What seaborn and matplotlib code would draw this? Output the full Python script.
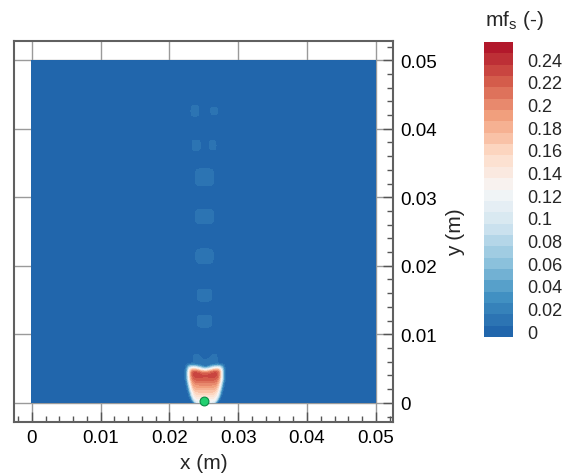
import numpy as np
import seaborn as sns
import matplotlib
matplotlib.use("Agg")
from matplotlib import pyplot as plt
from matplotlib.colors import ListedColormap
from matplotlib.ticker import FuncFormatter, MultipleLocator

# colour scale of mf_s
level_min = -0.005
level_max = 0.255
level_step = 0.01
cbar_ticks = [0, 0.02, 0.04, 0.06, 0.08, 0.1, 0.12, 0.14, 0.16, 0.18, 0.2, 0.22, 0.24]
palette = ['#2166ac', '#4393c3', '#92c5de', '#d1e5f0', '#f7f7f7',
           '#fddbc7', '#f4a582', '#d6604d', '#b2182b']

# faint puffs left behind in the wake (x centre, y centre, half width, half height, value)
puff_x = [0.0237, 0.0265, 0.0239, 0.0263, 0.0251, 0.0251, 0.0251, 0.0251, 0.0251]
puff_y = [0.0426, 0.0426, 0.0376, 0.0376, 0.0329, 0.0272, 0.0214, 0.0157, 0.0119]
puff_w = [0.0006, 0.0005, 0.0006, 0.0005, 0.0014, 0.0014, 0.0013, 0.0011, 0.0011]
puff_h = [0.0008, 0.0006, 0.0008, 0.0007, 0.0013, 0.0011, 0.0011, 0.0009, 0.0009]
puff_v = [0.011, 0.011, 0.011, 0.011, 0.012, 0.012, 0.012, 0.012, 0.012]

# main rising cup near the source
cup_x = 0.0252
cup_y = 0.0024
cup_top_w = 0.0025
cup_bot_w = 0.0013
cup_h = 0.0029
cup_v_bottom = 0.12
cup_v_top = 0.25

# ghost arc just above the cup
ghost_x = 0.0252
ghost_y = 0.0062
ghost_w = 0.0019
ghost_h = 0.0013
ghost_v = 0.011

source_x = 0.025
source_y = 0.0002

sns.set_style("white")
plt.rcParams['font.family'] = ['Liberation Sans', 'DejaVu Sans']


def superblob(X, Y, xc, yc, w, h, p=6):
    r = (np.abs(X - xc) / w) ** p + (np.abs(Y - yc) / h) ** p
    return np.exp(-r)


xs = np.linspace(0, 0.05, 801)
ys = np.linspace(0, 0.05, 801)
X, Y = np.meshgrid(xs, ys)
Z = np.zeros_like(X)

for px, py, pw, ph, pv in zip(puff_x, puff_y, puff_w, puff_h, puff_v):
    Z = np.maximum(Z, pv * superblob(X, Y, px, py, pw, ph, 4))

# ghost arc: a rounded box with its middle scooped out
g = ghost_v * superblob(X, Y, ghost_x, ghost_y, ghost_w, ghost_h, 4)
g *= 1 - np.exp(-((X - ghost_x) / 0.0012) ** 2 - ((Y - 0.0076) / 0.0017) ** 2)
Z = np.maximum(Z, g)

# cup: narrow at the bottom, wide at the top, concave top
frac = np.clip(Y / 0.0035, 0, 1)
width = cup_bot_w + (cup_top_w - cup_bot_w) * frac ** 0.4
r = (np.abs(X - cup_x) / width) ** 8 + (np.abs(Y - cup_y) / cup_h) ** 8
shape = np.exp(-r)
dip = 1 - np.exp(-((X - cup_x) / 0.0012) ** 2 - ((Y - 0.0058) / 0.0010) ** 2)
vals = cup_v_bottom + (cup_v_top - cup_v_bottom) * np.clip(Y / 0.0045, 0, 1)
Z = np.maximum(Z, vals * shape * dip)

levels = np.arange(level_min, level_max + level_step / 2, level_step)
cmap = ListedColormap(sns.blend_palette(palette, n_colors=len(levels) - 1))

fig = plt.figure(figsize=(5.66, 4.77), dpi=100)
ax = fig.add_axes([0.0247, 0.1132, 0.6696, 0.7987])
cs = ax.contourf(X, Y, np.clip(Z, 0, level_max - 0.001), levels=levels, cmap=cmap, zorder=1)

ax.scatter([source_x], [source_y], s=40, color='#22d070', edgecolor='#0b8a45',
           linewidth=0.8, zorder=3)

ax.set_xlim(-0.0026, 0.0525)
ax.set_ylim(-0.0028, 0.0528)
ax.xaxis.set_major_locator(MultipleLocator(0.01))
ax.yaxis.set_major_locator(MultipleLocator(0.01))
ax.xaxis.set_minor_locator(MultipleLocator(0.002))
ax.yaxis.set_minor_locator(MultipleLocator(0.002))
fmt = FuncFormatter(lambda v, pos: f"{round(v, 4):g}")
ax.xaxis.set_major_formatter(fmt)
ax.yaxis.set_major_formatter(fmt)
ax.yaxis.tick_right()
ax.yaxis.set_label_position('right')
ax.tick_params(which='both', direction='in', top=False, left=False, right=True,
               bottom=True, labelright=True, labelleft=False, colors='#555555',
               labelcolor='black', labelsize=13.5, width=1)
ax.tick_params(which='major', length=7, pad=5)
ax.tick_params(which='minor', length=4)
ax.set_axisbelow(True)
ax.grid(True, which='major', color='#9a9a9a', linewidth=1)
for s in ax.spines.values():
    s.set_color('#606060')
    s.set_linewidth(1.5)
ax.set_xlabel('x (m)', fontsize=15, labelpad=5)
ax.set_ylabel('y (m)', fontsize=15, labelpad=7)

cax = fig.add_axes([0.855, 0.2914, 0.0512, 0.6184])
cb = fig.colorbar(cs, cax=cax, ticks=cbar_ticks)
cb.outline.set_visible(False)
cb.ax.yaxis.set_major_formatter(FuncFormatter(lambda v, pos: f"{round(v, 3):g}"))
cax.tick_params(length=0, labelsize=13, pad=10)
fig.text(0.857, 0.958, r'mf$_\mathregular{s}$ (-)', fontsize=15, ha='left', va='center')

fig.savefig('out.png', dpi=100)
